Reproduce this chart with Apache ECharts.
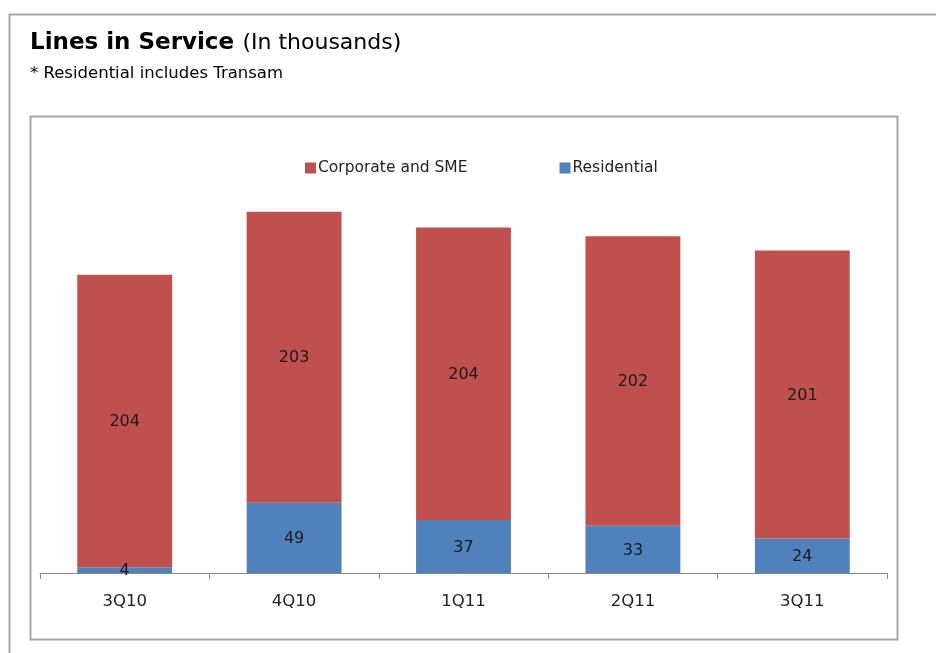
<!DOCTYPE html>
<html><head><meta charset="utf-8">
<script src="https://cdn.jsdelivr.net/npm/echarts@6/dist/echarts.min.js"></script>
<style>html,body{margin:0;padding:0;background:#fff}#c{width:936px;height:653px}</style>
</head><body><div id="c"></div>
<script>
var categories = ['3Q10','4Q10','1Q11','2Q11','3Q11'];
var residential = [4,49,37,33,24];
var corporate = [204,203,204,202,201];
var seriesNames = ['Corporate and SME','Residential'];

var chart = echarts.init(document.getElementById('c'));
var font = 'DejaVu Sans';
chart.setOption({
  animation:false,
  backgroundColor:'#fff',
  graphic:[
    {type:'rect',shape:{x:9.5,y:14.5,width:940,height:660},style:{fill:'none',stroke:'#a6a6a6',lineWidth:2},z:-10},
    {type:'rect',shape:{x:30.5,y:116.5,width:867,height:523},style:{fill:'none',stroke:'#a6a6a6',lineWidth:2},z:-10},
    {type:'text',left:30,top:32,style:{rich:{b:{fontFamily:font,fontWeight:'bold',fontSize:23,fill:'#000'},n:{fontFamily:font,fontSize:22,fill:'#000',padding:[0,0,0,5]}},text:'{b|Lines in Service} {n|(In thousands)}'}},
    {type:'text',left:30,top:65,style:{text:'* Residential includes Transam',fontFamily:font,fontSize:16.5,fill:'#000'}}
  ],
  legend:{
    data:seriesNames, left:300, top:155, itemWidth:11,itemHeight:11, itemGap:92,
    icon:'rect',
    textStyle:{fontFamily:font,fontSize:15.5,color:'#222',padding:[0,0,0,-3]}
  },
  grid:{left:40,right:49,top:143,bottom:80,containLabel:false},
  xAxis:{type:'category',data:categories,
    axisLine:{lineStyle:{color:'#868686',width:1}},
    axisTick:{show:true,length:6,lineStyle:{color:'#868686'}},
    axisLabel:{fontFamily:font,fontSize:16.5,color:'#222',margin:20}},
  yAxis:{type:'value',min:0,max:300,show:false,splitLine:{show:false}},
  series:[
    {name:seriesNames[1],type:'bar',stack:'s',data:residential,barWidth:'56%',
     itemStyle:{color:'#4F81BD'},
     label:{show:true,position:'inside',offset:[0,1],fontFamily:font,fontSize:16,color:'#1a1a1a'}},
    {name:seriesNames[0],type:'bar',stack:'s',data:corporate,barWidth:'56%',
     itemStyle:{color:'#C0504D'},
     label:{show:true,position:'inside',offset:[0,1],fontFamily:font,fontSize:16,color:'#1a1a1a'}}
  ]
});
</script></body></html>
